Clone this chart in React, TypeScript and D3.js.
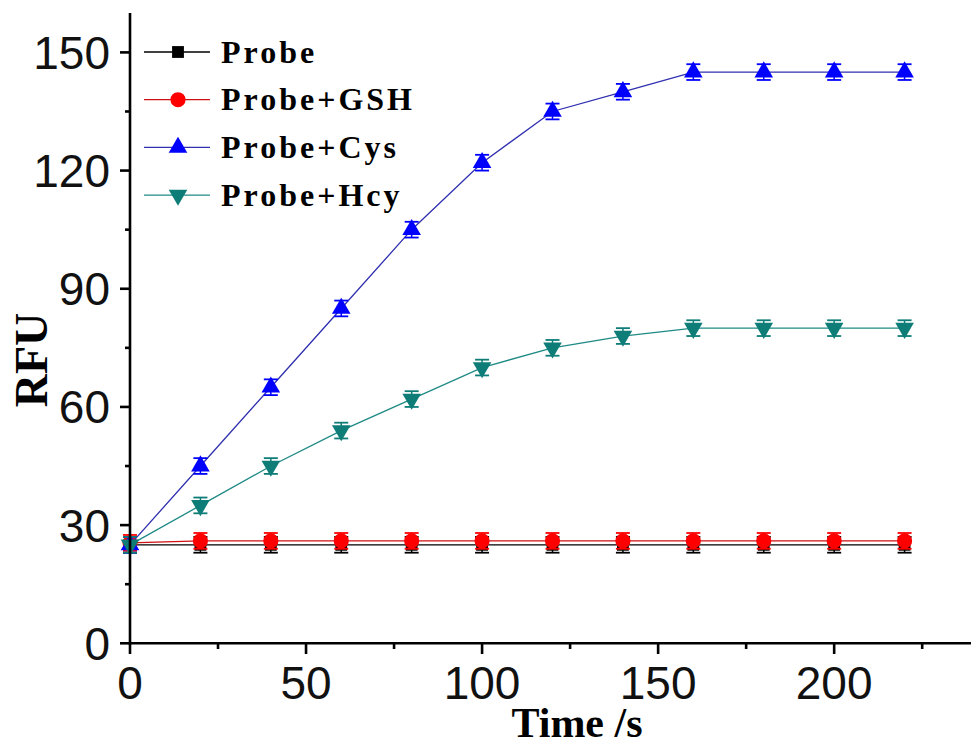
import React from "react";
import * as d3 from "d3";

const times = [0, 20, 40, 60, 80, 100, 120, 140, 160, 180, 200, 220];
const probe = [25, 25, 25, 25, 25, 25, 25, 25, 25, 25, 25, 25];
const probeGSH = [25.5, 26, 26, 26, 26, 26, 26, 26, 26, 26, 26, 26];
const probeCys = [25, 45, 65, 85, 105, 122, 135, 140, 145, 145, 145, 145];
const probeHcy = [25, 35, 45, 54, 62, 70, 75, 78, 80, 80, 80, 80];
const errProbe = [2, 2, 2, 2, 2, 2, 2, 2, 2, 2, 2, 2];
const errGSH = [2, 2, 2, 2, 2, 2, 2, 2, 2, 2, 2, 2];
const errCys = [2, 2, 2, 2, 2, 2, 2, 2, 2, 2, 2, 2];
const errHcy = [2, 2, 2, 2, 2, 2, 2, 2, 2, 2, 2, 2];
const seriesNames = ["Probe", "Probe+GSH", "Probe+Cys", "Probe+Hcy"];
const yTicks = [0, 30, 60, 90, 120, 150];
const xTicks = [0, 50, 100, 150, 200];

const series = [
  { name: seriesNames[0], values: probe, err: errProbe, color: "#000000", line: "#000000", symbol: d3.symbolSquare, size: 140, rot: 0 },
  { name: seriesNames[1], values: probeGSH, err: errGSH, color: "#ff0000", line: "#d01010", symbol: d3.symbolCircle, size: 180, rot: 0 },
  { name: seriesNames[2], values: probeCys, err: errCys, color: "#0000ff", line: "#3030b0", symbol: d3.symbolTriangle, size: 150, rot: 0 },
  { name: seriesNames[3], values: probeHcy, err: errHcy, color: "#0e7d78", line: "#1e8a85", symbol: d3.symbolTriangle, size: 150, rot: 180 },
];

export default function App() {
  const W = 971, H = 747;
  const x = d3.scaleLinear().domain([0, 240]).range([130, 975]);
  const y = d3.scaleLinear().domain([0, 160]).range([643.3, 13]);
  const xMinor = d3.range(25, 241, 50);
  const yMinor = d3.range(15, 160, 30);
  const line = d3.line<number>();
  return (
    <svg width={W} height={H} style={{ position: "absolute", left: 0, top: 0, background: "#fff" }}>
      {series.map((s, si) => {
        const pts = times.map((t, i) => [x(t), y(s.values[i])] as [number, number]);
        return (
          <g key={si}>
            <path d={d3.line()(pts) || ""} fill="none" stroke={s.line} strokeWidth={1.3} />
            {times.map((t, i) => {
              const cx = x(t), cy = y(s.values[i]);
              const hi = y(s.values[i] + s.err[i]), lo = y(s.values[i] - s.err[i]);
              return (
                <g key={i}>
                  <line x1={cx} x2={cx} y1={hi} y2={lo} stroke={s.color} strokeWidth={1.5} />
                  <line x1={cx - 7} x2={cx + 7} y1={hi} y2={hi} stroke={s.color} strokeWidth={1.8} />
                  <line x1={cx - 7} x2={cx + 7} y1={lo} y2={lo} stroke={s.color} strokeWidth={1.8} />
                  <path
                    d={d3.symbol().type(s.symbol).size(s.size)() || ""}
                    transform={`translate(${cx},${cy}) rotate(${s.rot})`}
                    fill={s.color}
                  />
                </g>
              );
            })}
          </g>
        );
      })}
      <line x1={130} x2={130} y1={13} y2={644.5} stroke="#000" strokeWidth={2.6} />
      <line x1={128.7} x2={975} y1={643.3} y2={643.3} stroke="#000" strokeWidth={2.6} />
      {yTicks.map((v) => (
        <g key={"y" + v}>
          <line x1={120} x2={130} y1={y(v)} y2={y(v)} stroke="#000" strokeWidth={2.6} />
          <text x={110} y={y(v)} dy="0.36em" textAnchor="end" fontFamily="Liberation Sans, Arial, sans-serif" fontSize={46} fill="#111">
            {v}
          </text>
        </g>
      ))}
      {yMinor.map((v) => (
        <line key={"ym" + v} x1={125} x2={130} y1={y(v)} y2={y(v)} stroke="#000" strokeWidth={2.6} />
      ))}
      {xTicks.map((v) => (
        <g key={"x" + v}>
          <line x1={x(v)} x2={x(v)} y1={643.3} y2={654} stroke="#000" strokeWidth={2.6} />
          <text x={x(v)} y={699} textAnchor="middle" fontFamily="Liberation Sans, Arial, sans-serif" fontSize={46} fill="#111">
            {v}
          </text>
        </g>
      ))}
      {xMinor.map((v) => (
        <line key={"xm" + v} x1={x(v)} x2={x(v)} y1={643.3} y2={649} stroke="#000" strokeWidth={2.6} />
      ))}
      <text
        transform="translate(47,360) rotate(-90)"
        textAnchor="middle"
        fontFamily="Liberation Serif, Times New Roman, serif"
        fontWeight="bold"
        fontSize={46}
        fill="#000"
      >
        RFU
      </text>
      <text x={577} y={737} textAnchor="middle" fontFamily="Liberation Serif, Times New Roman, serif" fontWeight="bold" fontSize={42} fill="#000">
        Time /s
      </text>
      {series.map((s, i) => {
        const ly = 52 + i * 47.7;
        return (
          <g key={"lg" + i}>
            <path d={line([[144, ly], [210, ly]]) || ""} stroke={s.line} strokeWidth={1.3} fill="none" />
            <path
              d={d3.symbol().type(s.symbol).size(s.size)() || ""}
              transform={`translate(178,${ly}) rotate(${s.rot})`}
              fill={s.color}
            />
            <text
              x={221}
              y={ly}
              dy="0.33em"
              fontFamily="Liberation Serif, Times New Roman, serif"
              fontWeight="bold"
              fontSize={32}
              letterSpacing={3}
              fill="#000"
            >
              {s.name}
            </text>
          </g>
        );
      })}
    </svg>
  );
}
